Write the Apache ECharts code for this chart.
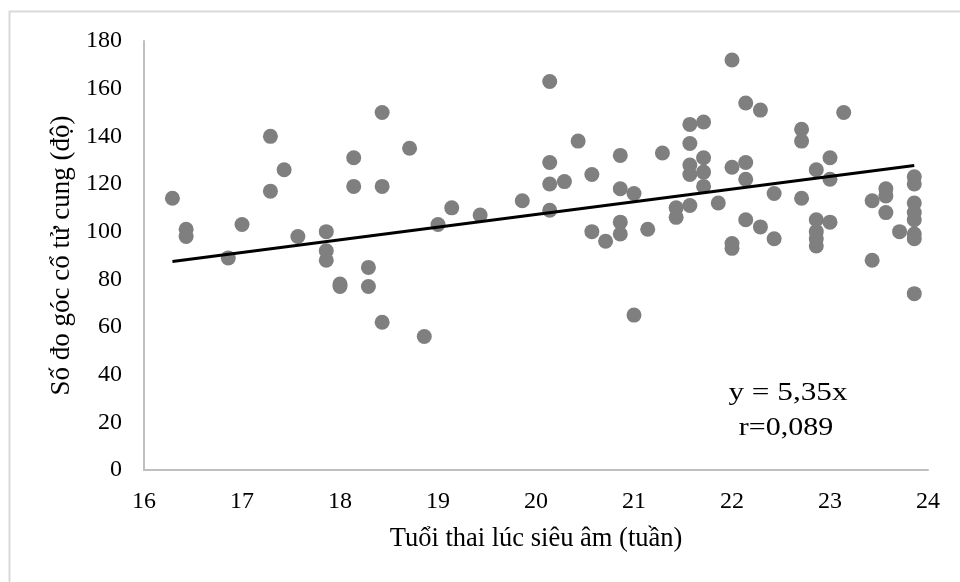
<!DOCTYPE html>
<html>
<head>
<meta charset="utf-8">
<script src="https://cdn.jsdelivr.net/npm/echarts@6/dist/echarts.min.js"></script>
<style>
  html, body { margin: 0; padding: 0; background: #fff; }
  #chart { width: 960px; height: 582px; }
</style>
</head>
<body>
<div id="chart"></div>
<script>
// tuoi thai (tuan) va so do goc (do), doc tu hinh
var tuoiThai = [
  16.29, 16.43, 16.43, 16.86, 17.0, 17.29, 17.29, 17.43, 17.57,
  17.86, 17.86, 17.86, 18.0, 18.0, 18.14, 18.14, 18.29, 18.29,
  18.43, 18.43, 18.43, 18.71, 18.86, 19.0, 19.14, 19.43, 19.86,
  20.14, 20.14, 20.14, 20.14, 20.29, 20.43, 20.57, 20.57, 20.71,
  20.86, 20.86, 20.86, 20.86, 21.0, 21.0, 21.14, 21.29, 21.43, 21.43,
  21.57, 21.57, 21.57, 21.57, 21.57, 21.71, 21.71, 21.71, 21.71, 21.86,
  22.0, 22.0, 22.0, 22.0, 22.14, 22.14, 22.14, 22.14, 22.29, 22.29,
  22.43, 22.43, 22.71, 22.71, 22.71, 22.86, 22.86, 22.86, 22.86, 22.86,
  23.0, 23.0, 23.0, 23.14, 23.43, 23.43, 23.57, 23.57, 23.57, 23.71,
  23.86, 23.86, 23.86, 23.86, 23.86, 23.86, 23.86, 23.86
];
var gocCoTuCung = [
  114, 101, 98, 89, 103, 140, 117, 126, 98,
  100, 92, 88, 78, 77, 131, 119, 85, 77,
  150, 119, 62, 135, 56, 103, 110, 107, 113,
  163, 129, 120, 109, 121, 138, 124, 100, 96,
  132, 118, 104, 99, 116, 65, 101, 133, 110, 106,
  145, 137, 128, 124, 111, 146, 131, 125, 119, 112,
  172, 127, 95, 93, 154, 129, 122, 105, 151, 102,
  116, 97, 143, 138, 114, 126, 105, 100, 97, 94,
  131, 122, 104, 150, 113, 88, 118, 115, 108, 100,
  123, 120, 112, 108, 105, 99, 97, 74
];
// duong xu huong
var trendX = [16.29, 23.86];
var trendY = [87.5, 127.8];
var xTicks = [16, 24, 1];
var yTicks = [0, 180, 20];

var points = tuoiThai.map(function (x, i) { return [x, gocCoTuCung[i]]; });
var trend = trendX.map(function (x, i) { return [x, trendY[i]]; });

var font = '"Liberation Serif", "Times New Roman", serif';
var chart = echarts.init(document.getElementById('chart'));
var option = {
  backgroundColor: '#fff',
  animation: false,
  grid: { left: 144, right: 32, top: 41, bottom: 112 },
  graphic: [{
    type: 'rect',
    shape: { x: 9.5, y: 11.5, width: 1000, height: 700 },
    style: { fill: 'none', stroke: '#d9d9d9', lineWidth: 2 },
    silent: true
  }, {
    type: 'text',
    x: 788, y: 393, scaleX: 1.25,
    style: {
      text: 'y = 5,35x',
      font: '25px ' + font,
      fill: '#000',
      align: 'center',
      verticalAlign: 'middle'
    }
  }, {
    type: 'text',
    x: 786, y: 428, scaleX: 1.2,
    style: {
      text: 'r=0,089',
      font: '25px ' + font,
      fill: '#000',
      align: 'center',
      verticalAlign: 'middle'
    }
  }],
  xAxis: {
    type: 'value',
    min: xTicks[0], max: xTicks[1], interval: xTicks[2],
    name: 'Tuổi thai lúc siêu âm (tuần)',
    nameLocation: 'middle',
    nameGap: 56,
    nameTextStyle: { fontFamily: font, fontSize: 26.5, color: '#000' },
    axisLine: { lineStyle: { color: '#bfbfbf', width: 2 } },
    axisTick: { show: false },
    splitLine: { show: false },
    axisLabel: { fontFamily: font, fontSize: 24, color: '#000', margin: 20 }
  },
  yAxis: {
    type: 'value',
    min: yTicks[0], max: yTicks[1], interval: yTicks[2],
    name: 'Số đo góc cổ tử cung (độ)',
    nameLocation: 'middle',
    nameGap: 66,
    nameTextStyle: { fontFamily: font, fontSize: 27, color: '#000' },
    axisLine: { show: true, lineStyle: { color: '#bfbfbf', width: 2 } },
    axisTick: { show: false },
    splitLine: { show: false },
    axisLabel: { fontFamily: font, fontSize: 24, color: '#000', margin: 22 }
  },
  series: [{
    type: 'scatter',
    data: points,
    symbolSize: 15,
    itemStyle: { color: '#7f7f7f', opacity: 1 }
  }, {
    type: 'line',
    data: trend,
    symbol: 'none',
    lineStyle: { color: '#000', width: 3 },
    z: 3
  }]
};
chart.setOption(option);
</script>
</body>
</html>
